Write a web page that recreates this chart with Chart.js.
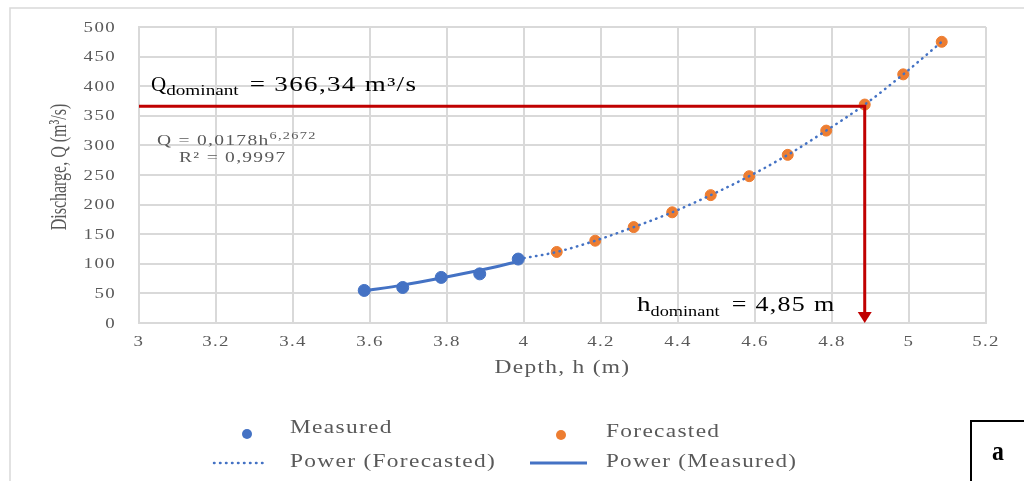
<!DOCTYPE html>
<html>
<head>
<meta charset="utf-8">
<script src="https://cdn.jsdelivr.net/npm/chart.js@4"></script>
<style>
  html, body { margin: 0; padding: 0; background: #fff; }
  #box { width: 1024px; height: 481px; position: relative; }
</style>
</head>
<body>
<div id="box"><canvas id="graficoRating" width="1024" height="481"></canvas></div>
<script>
// values
const measuredDepth = [3.585, 3.685, 3.785, 3.885, 3.985];
const measuredQ = [55, 60, 77, 83, 108];
const measuredTrendQ = [54, 64, 76, 89, 104];
const forecastDepth = [4.085, 4.185, 4.285, 4.385, 4.485, 4.585, 4.685, 4.785, 4.885, 4.985, 5.085];
const forecastQ = [120, 139, 162, 187, 216, 248, 284, 325, 369, 420, 475];

const xMin = 3, xMax = 5.2, xStep = 0.2;
const yMin = 0, yMax = 500, yStep = 50;

const qDominant = 366.34;   // labelled discharge
const hDominant = 4.85;     // labelled depth
const hArrow = 4.885;       // where the red arrow is drawn on the curve

const blue = '#4472c4';
const orange = '#ed7d31';
const red = '#c00000';
const grey = '#595959';
const gridGrey = '#d9d9d9';

const toPts = (xs, ys) => xs.map((x, i) => ({ x: x, y: ys[i] }));

// draw horizontally stretched serif text, like the source picture
const txt = (ctx, s, x, y, size, o = {}) => {
    ctx.save();
    ctx.font = (o.bold ? 'bold ' : '') + size + 'px "Liberation Serif"';
    ctx.fillStyle = o.color || grey;
    ctx.textBaseline = o.base || 'alphabetic';
    ctx.textAlign = 'left';
    ctx.letterSpacing = (o.ls || 0) + 'px';
    const sx = o.sx || 1.3;
    const w = ctx.measureText(s).width * sx;
    let x0 = x;
    if (o.align === 'right') x0 = x - w;
    if (o.align === 'center') x0 = x - w / 2;
    ctx.translate(x0, y);
    ctx.scale(sx, 1);
    ctx.fillText(s, 0, 0);
    ctx.restore();
    return x0 + w;
};

const decoPlugin = {
    id: 'deco',
    afterDraw(chart) {
        const ctx = chart.ctx;
        const xs = chart.scales.x, ys = chart.scales.y;
        const area = chart.chartArea;

        // outer frame
        ctx.save();
        ctx.strokeStyle = gridGrey;
        ctx.lineWidth = 1.5;
        ctx.beginPath();
        ctx.moveTo(10, 481); ctx.lineTo(10, 8); ctx.lineTo(1024, 8);
        ctx.stroke();
        ctx.restore();

        // tick labels
        ys.ticks.forEach(t => {
            txt(ctx, String(t.value), area.left - 23, ys.getPixelForValue(t.value) + 1, 14,
                { align: 'right', base: 'middle', ls: 1, sx: 1.35 });
        });
        xs.ticks.forEach(t => {
            const lab = String(Math.round(t.value * 10) / 10);
            txt(ctx, lab, xs.getPixelForValue(t.value), area.bottom + 19, 14,
                { align: 'center', base: 'middle', ls: 1, sx: 1.35 });
        });

        // axis titles
        txt(ctx, 'Depth, h (m)', (area.left + area.right) / 2, area.bottom + 45, 18,
            { align: 'center', base: 'middle', ls: 1 });
        ctx.save();
        ctx.translate(60, 167);
        ctx.rotate(-Math.PI / 2);
        ctx.scale(1, 1.5);
        ctx.font = '16px "Liberation Serif"';
        ctx.fillStyle = grey;
        ctx.textAlign = 'center';
        ctx.textBaseline = 'middle';
        ctx.fillText('Discharge, Q (m³/s)', 0, 0);
        ctx.restore();

        // red dominant lines with arrow
        const yq = ys.getPixelForValue(qDominant);
        const xh = xs.getPixelForValue(hArrow);
        const yb = ys.getPixelForValue(0);
        ctx.save();
        ctx.strokeStyle = red;
        ctx.fillStyle = red;
        ctx.lineWidth = 3;
        ctx.beginPath();
        ctx.moveTo(area.left, yq);
        ctx.lineTo(xh, yq);
        ctx.lineTo(xh, yb - 9);
        ctx.stroke();
        ctx.beginPath();
        ctx.moveTo(xh - 7, yb - 11);
        ctx.lineTo(xh + 7, yb - 11);
        ctx.lineTo(xh, yb);
        ctx.closePath();
        ctx.fill();
        ctx.restore();

        // Q dominant label
        let e = txt(ctx, 'Q', 151, 91, 20, { color: '#000', sx: 1.05 });
        e = txt(ctx, 'dominant', e, 95, 15, { color: '#000', sx: 1.28 });
        txt(ctx, '= ' + String(qDominant).replace('.', ',') + ' m³/s', e + 11, 91, 20,
            { color: '#000', ls: 1, sx: 1.35 });

        // h dominant label
        e = txt(ctx, 'h', 637, 311, 20, { color: '#000', sx: 1.35 });
        e = txt(ctx, 'dominant', e, 316, 15, { color: '#000', sx: 1.22 });
        txt(ctx, '= ' + String(hDominant).replace('.', ',') + ' m', e + 12, 311, 20,
            { color: '#000', ls: 1, sx: 1.3 });

        // trend equation
        e = txt(ctx, 'Q = 0,0178h', 157, 145, 15, { ls: 1 });
        txt(ctx, '6,2672', e, 139, 11, { ls: 1 });
        txt(ctx, 'R² = 0,9997', 179, 162, 15, { ls: 1 });

        // legend
        ctx.save();
        ctx.fillStyle = blue;
        ctx.beginPath(); ctx.arc(247, 434, 5, 0, Math.PI * 2); ctx.fill();
        ctx.fillStyle = orange;
        ctx.beginPath(); ctx.arc(561, 435, 5, 0, Math.PI * 2); ctx.fill();
        ctx.strokeStyle = blue;
        ctx.lineWidth = 2.5;
        ctx.setLineDash([0.5, 5.5]);
        ctx.lineCap = 'round';
        ctx.beginPath(); ctx.moveTo(214, 463); ctx.lineTo(268, 463); ctx.stroke();
        ctx.setLineDash([]);
        ctx.lineCap = 'butt';
        ctx.lineWidth = 3;
        ctx.beginPath(); ctx.moveTo(530, 463); ctx.lineTo(587, 463); ctx.stroke();
        ctx.restore();
        txt(ctx, 'Measured', 290, 428, 18, { base: 'middle', ls: 1 });
        txt(ctx, 'Forecasted', 606, 432, 18, { base: 'middle', ls: 1 });
        txt(ctx, 'Power (Forecasted)', 290, 462, 18, { base: 'middle', ls: 1 });
        txt(ctx, 'Power (Measured)', 606, 462, 18, { base: 'middle', ls: 1, sx: 1.28 });

        // panel letter
        ctx.save();
        ctx.strokeStyle = '#000';
        ctx.lineWidth = 2;
        ctx.beginPath();
        ctx.moveTo(1024, 421); ctx.lineTo(971, 421); ctx.lineTo(971, 481);
        ctx.stroke();
        ctx.restore();
        txt(ctx, 'a', 998, 460, 28, { color: '#000', bold: true, sx: 0.85, align: 'center' });
    }
};

const ctx1 = document.getElementById('graficoRating').getContext('2d');

const graficoRating = new Chart(ctx1, {
    type: 'scatter',
    data: {
        datasets: [{
            label: 'Power (Forecasted)',
            data: toPts([measuredDepth[measuredDepth.length - 1], ...forecastDepth],
                        [measuredQ[measuredQ.length - 1], ...forecastQ]),
            showLine: true,
            borderColor: blue,
            borderWidth: 2.5,
            borderDash: [0.5, 5.5],
            borderCapStyle: 'round',
            cubicInterpolationMode: 'monotone',
            pointRadius: 0,
            order: 0
        },
        {
            label: 'Power (Measured)',
            data: toPts(measuredDepth, measuredTrendQ),
            showLine: true,
            borderColor: blue,
            borderWidth: 3,
            cubicInterpolationMode: 'monotone',
            pointRadius: 0,
            order: 0
        },
        {
            label: 'Measured',
            data: toPts(measuredDepth, measuredQ),
            backgroundColor: blue,
            borderColor: blue,
            pointRadius: 6,
            order: 1
        },
        {
            label: 'Forecasted',
            data: toPts(forecastDepth, forecastQ),
            backgroundColor: orange,
            borderColor: orange,
            pointRadius: 5.5,
            order: 1
        }]
    },
    options: {
        responsive: false,
        animation: false,
        layout: {
            padding: { top: 27, right: 38, bottom: 128, left: 0 }
        },
        plugins: {
            legend: { display: false },
            tooltip: { enabled: false }
        },
        scales: {
            x: {
                type: 'linear',
                min: xMin,
                max: xMax,
                ticks: { stepSize: xStep, display: false },
                grid: { color: gridGrey, lineWidth: 2, drawTicks: false },
                border: { color: gridGrey, width: 2 },
                afterFit: (s) => { s.height = 30; }
            },
            y: {
                min: yMin,
                max: yMax,
                ticks: { stepSize: yStep, display: false },
                grid: { color: gridGrey, lineWidth: 2, drawTicks: false },
                border: { color: gridGrey, width: 2 },
                afterFit: (s) => { s.width = 139; }
            }
        }
    },
    plugins: [decoPlugin]
});
</script>
</body>
</html>
